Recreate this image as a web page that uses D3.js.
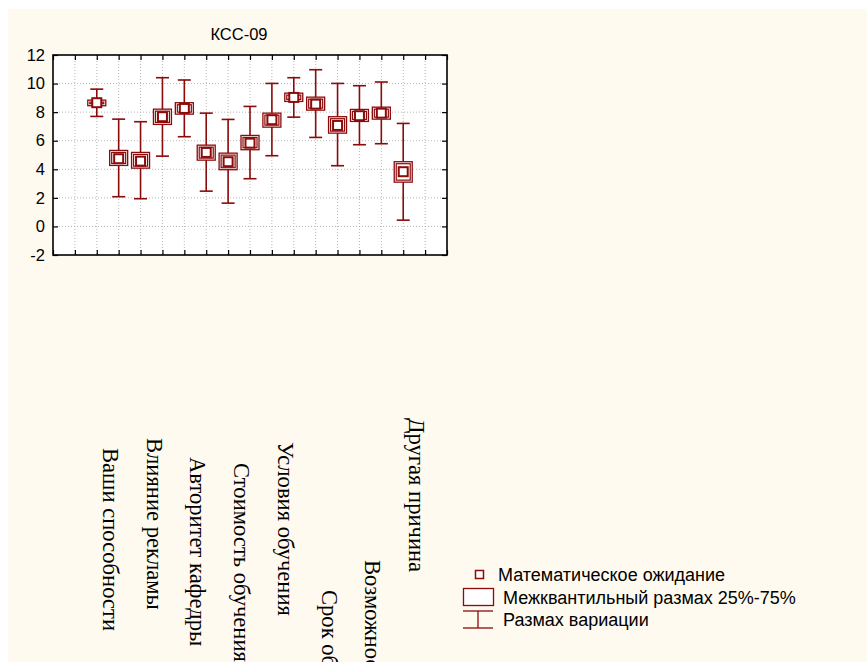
<!DOCTYPE html>
<html><head><meta charset="utf-8">
<script src="https://cdn.jsdelivr.net/npm/d3@7"></script>
<style>
html,body{margin:0;padding:0;background:#fff;}
svg{display:block;}
</style></head>
<body>
<svg id="chart" width="867" height="662"></svg>
<script>
// ---- data ----
const title = "КСС-09";
const categories = ["Ваши способности", null, "Влияние рекламы", null, "Авторитет кафедры", null,
  "Стоимость обучения", null, "Условия обучения", null, "Срок обучения", null,
  "Возможность", null, "Другая причина"];
const means = [8.66, 4.74, 4.57, 7.68, 8.26, 5.18, 4.53, 5.83, 7.47, 9.03, 8.56, 7.07, 7.75, 7.93, 3.83];
const q25   = [8.45, 4.27, 4.08, 7.14, 7.86, 4.64, 3.97, 5.37, 6.95, 8.75, 8.14, 6.53, 7.35, 7.51, 3.10];
const q75   = [8.84, 5.32, 5.18, 8.21, 8.66, 5.69, 5.13, 6.37, 7.93, 9.33, 9.05, 7.68, 8.19, 8.35, 4.53];
const mins  = [7.70, 2.08, 1.94, 4.92, 6.28, 2.47, 1.63, 3.34, 4.95, 7.65, 6.23, 4.25, 5.72, 5.79, 0.44];
const maxs  = [9.61, 7.51, 7.33, 10.41, 10.25, 7.93, 7.49, 8.40, 10.01, 10.41, 10.97, 10.01, 9.85, 10.11, 7.21];
const yTicks = [-2, 0, 2, 4, 6, 8, 10, 12];
const legendLabels = ["Математическое ожидание", "Межквантильный размах 25%-75%", "Размах вариации"];

// ---- layout (not data) ----
const labelTop = [448, null, 438, null, 457, null, 463, null, 442, null, 590, null, 560, null, 418];
const W = 867, H = 662;
const plot = {l: 53, r: 447, t: 55, b: 255};
const red = "#8b0a0a";

const svg = d3.select("#chart");
svg.append("rect").attr("x", 8).attr("y", 9).attr("width", W - 8).attr("height", H - 9).attr("fill", "#fffaef");

const x = d3.scaleLinear().domain([0, categories.length + 3]).range([plot.l, plot.r]);
const y = d3.scaleLinear().domain([-2, 12]).range([plot.b, plot.t]);
const cx = i => x(i + 2);

svg.append("rect").attr("x", plot.l).attr("y", plot.t).attr("width", plot.r - plot.l)
  .attr("height", plot.b - plot.t).attr("fill", "#fff");

const xTickVals = d3.range(0, categories.length + 4);
// grid
const g = svg.append("g");
g.selectAll("line.vg").data(xTickVals.slice(1, -1)).join("line")
  .attr("x1", d => x(d)).attr("x2", d => x(d)).attr("y1", plot.t).attr("y2", plot.b)
  .attr("stroke", "#b8b8b8").attr("stroke-dasharray", "1,2").attr("stroke-width", 1);
g.selectAll("line.hg").data(yTicks.slice(1, -1)).join("line")
  .attr("x1", plot.l).attr("x2", plot.r).attr("y1", d => y(d)).attr("y2", d => y(d))
  .attr("stroke", "#b8b8b8").attr("stroke-dasharray", "1,2").attr("stroke-width", 1);

// axes
const axL = d3.axisLeft(y).tickValues(yTicks).tickSize(-5).tickPadding(8).tickFormat(d => String(d));
const axR = d3.axisRight(y).tickValues(yTicks).tickSize(-5).tickFormat("");
const axB = d3.axisBottom(x).tickValues(xTickVals).tickSize(-5).tickFormat("");
const axT = d3.axisTop(x).tickValues(xTickVals).tickSize(-5).tickFormat("");
function styleAxis(sel) {
  sel.select(".domain").remove();
  sel.selectAll(".tick line").attr("stroke", "#000").attr("stroke-width", 1.2);
  sel.selectAll("text").attr("font-family", "Liberation Sans, Arial, sans-serif").attr("font-size", 16.5).attr("fill", "#000");
}
svg.append("g").attr("transform", `translate(${plot.l},0)`).call(axL).call(styleAxis);
svg.append("g").attr("transform", `translate(${plot.r},0)`).call(axR).call(styleAxis);
svg.append("g").attr("transform", `translate(0,${plot.b})`).call(axB).call(styleAxis);
svg.append("g").attr("transform", `translate(0,${plot.t})`).call(axT).call(styleAxis);
svg.append("rect").attr("x", plot.l).attr("y", plot.t).attr("width", plot.r - plot.l)
  .attr("height", plot.b - plot.t).attr("fill", "none").attr("stroke", "#000").attr("stroke-width", 1.6);

// title
svg.append("text").attr("x", 239).attr("y", 40).attr("text-anchor", "middle")
  .attr("font-family", "Liberation Sans, Arial, sans-serif").attr("font-size", 16.5).text(title);

// marks
const data = means.map((m, i) => ({i, m, lo: q25[i], hi: q75[i], mn: mins[i], mx: maxs[i]}));
const mk = svg.append("g");
const boxW = 18, capW = 13, meanS = 10;
data.forEach(d => {
  const X = cx(d.i);
  mk.append("line").attr("x1", X).attr("x2", X).attr("y1", y(d.mx)).attr("y2", y(d.mn))
    .attr("stroke", red).attr("stroke-width", 1.6);
  [d.mx, d.mn].forEach(v => mk.append("line").attr("x1", X - capW / 2).attr("x2", X + capW / 2)
    .attr("y1", y(v)).attr("y2", y(v)).attr("stroke", red).attr("stroke-width", 1.6));
  const top = y(d.hi), bot = y(d.lo);
  mk.append("rect").attr("x", X - boxW / 2).attr("y", top).attr("width", boxW).attr("height", bot - top)
    .attr("fill", "#fff").attr("stroke", red).attr("stroke-width", 1.3);
  mk.append("rect").attr("x", X - boxW / 2 + 2).attr("y", top + 2).attr("width", boxW - 4)
    .attr("height", Math.max(0, bot - top - 4)).attr("fill", "none").attr("stroke", red).attr("stroke-width", 1.2);
  mk.append("rect").attr("x", X - meanS / 2 + 0.5).attr("y", y(d.m) - meanS / 2 + 0.5)
    .attr("width", meanS - 1).attr("height", meanS - 1)
    .attr("fill", "#fff").attr("stroke", red).attr("stroke-width", 2);
});

// category labels (rotated)
categories.forEach((c, i) => {
  if (!c) return;
  const X = cx(i) + 6, Y = labelTop[i];
  svg.append("text").attr("transform", `translate(${X},${Y}) rotate(90)`)
    .attr("font-family", "Liberation Serif, Times New Roman, serif").attr("font-size", 22.6)
    .attr("fill", "#000").text(c);
});

// legend
const lg = svg.append("g").attr("font-family", "Liberation Sans, Arial, sans-serif").attr("font-size", 18).attr("fill", "#000");
lg.append("rect").attr("x", 475.5).attr("y", 570.5).attr("width", 8).attr("height", 8)
  .attr("fill", "#fff").attr("stroke", red).attr("stroke-width", 1.5);
lg.append("text").attr("x", 498).attr("y", 581).text(legendLabels[0]);
lg.append("rect").attr("x", 463.5).attr("y", 588.5).attr("width", 30).attr("height", 17)
  .attr("fill", "#fff").attr("stroke", red).attr("stroke-width", 1.3);
lg.append("text").attr("x", 503).attr("y", 604).text(legendLabels[1]);
lg.append("line").attr("x1", 463).attr("x2", 493).attr("y1", 611).attr("y2", 611).attr("stroke", red).attr("stroke-width", 1.3);
lg.append("line").attr("x1", 463).attr("x2", 493).attr("y1", 628).attr("y2", 628).attr("stroke", red).attr("stroke-width", 1.3);
lg.append("line").attr("x1", 478).attr("x2", 478).attr("y1", 611).attr("y2", 628).attr("stroke", red).attr("stroke-width", 1.3);
lg.append("text").attr("x", 503).attr("y", 626).text(legendLabels[2]);
</script>
</body></html>
